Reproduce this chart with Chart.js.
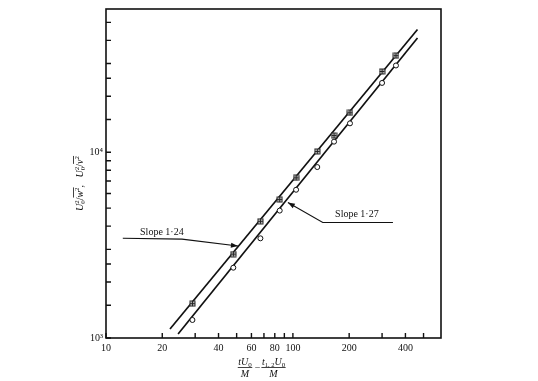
<!DOCTYPE html>
<html>
<head>
<meta charset="utf-8">
<script src="https://cdn.jsdelivr.net/npm/chart.js@4/dist/chart.umd.min.js"></script>
<style>
  html, body { margin: 0; padding: 0; background: #fff; }
  #wrap { width: 538px; height: 381px; }
</style>
</head>
<body>
<div id="wrap"><canvas id="decay"></canvas></div>
<script>
// values (log-log)
const timeSteps = [29, 48, 67, 85, 104, 135, 166, 202, 300, 356];
const ratioW = [1530, 2830, 4250, 5560, 7280, 10100, 12300, 16300, 27200, 33100];
const ratioV = [1250, 2390, 3440, 4850, 6280, 8320, 11400, 14300, 23600, 29300];
// fitted straight lines, end points
const fitWx = [22, 464];
const fitWy = [1117, 45800];
const fitVx = [24.3, 464];
const fitVy = [1050, 41200];
// axes
const xTicks = [10, 20, 30, 40, 50, 60, 70, 80, 90, 100, 200, 300, 400, 500];
const xLabels = [10, 20, 40, 60, 80, 100, 200, 400];
const yTicks = [1000, 1500, 2000, 2500, 3000, 4000, 5000, 6000, 7000, 8000, 9000,
                10000, 15000, 20000, 25000, 30000, 40000, 50000];
const yLabels = { 1000: '10³', 10000: '10⁴' };

const serif = '"Liberation Serif", "DejaVu Serif", serif';
const ink = '#111';

// leaders for the two slope notes (data coordinates)
const notes = [
  { text: 'Slope 1·24', at: [19.9, 3707], path: [[12.3, 3444], [25.5, 3404], [50.8, 3126]] },
  { text: 'Slope 1·27', at: [220, 4627], path: [[343, 4188], [144.5, 4188], [94, 5357]] }
];

// square with a cross for the w series
function crossSquare() {
  const c = document.createElement('canvas');
  c.width = 7; c.height = 7;
  const g = c.getContext('2d');
  g.fillStyle = '#c4c4c4';
  g.fillRect(1, 1, 5, 5);
  g.strokeStyle = '#222'; g.lineWidth = 1;
  g.strokeRect(1, 1, 5, 5);
  g.beginPath();
  g.moveTo(3.5, 1); g.lineTo(3.5, 6);
  g.moveTo(1, 3.5); g.lineTo(6, 3.5);
  g.stroke();
  return c;
}

// small rich text: segments {t, size, italic, dy, adv(false = no advance), over}
function segFont(s) { return (s.italic ? 'italic ' : '') + (s.size || 10) + 'px ' + serif; }
function richWidth(ctx, segs) {
  let w = 0;
  segs.forEach(s => { ctx.font = segFont(s); if (s.adv !== false) w += ctx.measureText(s.t).width; });
  return w;
}
function drawRich(ctx, segs, x, y) {
  let overStart = null;
  segs.forEach(s => {
    ctx.font = segFont(s);
    const w = ctx.measureText(s.t).width;
    ctx.fillText(s.t, x, y + (s.dy || 0));
    if (s.over === 'start') overStart = x;
    if (s.over === 'end') {
      ctx.beginPath();
      ctx.lineWidth = 0.8;
      ctx.moveTo(overStart, y - 9); ctx.lineTo(x + w, y - 9);
      ctx.stroke();
    }
    if (s.adv !== false) x += w;
  });
}

const stackU = [
  { t: 'U', italic: true },
  { t: '2', size: 7, dy: -4, adv: false },
  { t: '0', size: 7, dy: 2.5 }
];
const yTitle = [
  ...stackU, { t: '/' }, { t: 'w', italic: true, over: 'start' }, { t: '2', size: 7, dy: -4, over: 'end' },
  { t: ',   ' },
  ...stackU, { t: '/' }, { t: 'v', italic: true, over: 'start' }, { t: '2', size: 7, dy: -4, over: 'end' }
];
const numA = [{ t: 't', italic: true }, { t: 'U', italic: true }, { t: '0', size: 7, dy: 2 }];
const numB = [{ t: 't', italic: true }, { t: '1, 2', size: 6.5, dy: 2 }, { t: 'U', italic: true }, { t: '0', size: 7, dy: 2 }];
const den = [{ t: 'M', italic: true }];

const frame = {
  id: 'frame',
  afterDraw(chart) {
    const { ctx, chartArea: a, scales: { x, y } } = chart;
    ctx.save();
    ctx.strokeStyle = ink;
    ctx.fillStyle = ink;
    ctx.lineWidth = 1.6;
    ctx.strokeRect(a.left, a.top, a.right - a.left, a.bottom - a.top);

    // inward tick marks
    ctx.lineWidth = 1.4;
    ctx.beginPath();
    xTicks.forEach(v => { const px = x.getPixelForValue(v); ctx.moveTo(px, a.bottom); ctx.lineTo(px, a.bottom - 5); });
    yTicks.forEach(v => { const py = y.getPixelForValue(v); ctx.moveTo(a.left, py); ctx.lineTo(a.left + 5, py); });
    ctx.stroke();

    // slope notes
    notes.forEach(n => {
      const pts = n.path.map(p => [x.getPixelForValue(p[0]), y.getPixelForValue(p[1])]);
      ctx.lineWidth = 1.1;
      ctx.beginPath();
      ctx.moveTo(pts[0][0], pts[0][1]);
      for (let i = 1; i < pts.length; i++) ctx.lineTo(pts[i][0], pts[i][1]);
      ctx.stroke();
      const [tx, ty] = pts[pts.length - 1];
      const [px, py] = pts[pts.length - 2];
      const ang = Math.atan2(ty - py, tx - px);
      ctx.beginPath();
      ctx.moveTo(tx, ty);
      ctx.lineTo(tx - 7 * Math.cos(ang) + 2.5 * Math.sin(ang), ty - 7 * Math.sin(ang) - 2.5 * Math.cos(ang));
      ctx.lineTo(tx - 7 * Math.cos(ang) - 2.5 * Math.sin(ang), ty - 7 * Math.sin(ang) + 2.5 * Math.cos(ang));
      ctx.closePath();
      ctx.fill();
      ctx.font = '10px ' + serif;
      ctx.textAlign = 'center';
      ctx.textBaseline = 'middle';
      ctx.fillText(n.text, x.getPixelForValue(n.at[0]), y.getPixelForValue(n.at[1]));
    });

    // y axis title, rotated
    ctx.textAlign = 'left';
    ctx.textBaseline = 'alphabetic';
    ctx.save();
    ctx.translate(a.left - 27, (a.top + a.bottom) / 2 + 10);
    ctx.rotate(-Math.PI / 2);
    drawRich(ctx, yTitle, -richWidth(ctx, yTitle) / 2, 3.5);
    ctx.restore();

    // x axis title: tU0/M - t12U0/M
    const cx = (a.left + a.right) / 2;
    const barY = a.bottom + 29.5;
    const fracs = [[numA, cx - 28.5], [numB, cx]];
    ctx.lineWidth = 0.8;
    fracs.forEach(([num, fx]) => {
      const wn = richWidth(ctx, num);
      drawRich(ctx, num, fx - wn / 2, barY - 3);
      const wd = richWidth(ctx, den);
      drawRich(ctx, den, fx - wd / 2, barY + 9);
      ctx.beginPath();
      ctx.moveTo(fx - wn / 2 - 0.5, barY); ctx.lineTo(fx + wn / 2 + 0.5, barY);
      ctx.stroke();
    });
    ctx.font = '10px ' + serif;
    ctx.textAlign = 'center';
    ctx.fillText('−', cx - 16, barY + 3);
    ctx.restore();
  }
};

const toPts = (xs, ys) => xs.map((v, i) => ({ x: v, y: ys[i] }));

new Chart(document.getElementById('decay'), {
  type: 'scatter',
  data: {
    datasets: [
      { data: toPts(timeSteps, ratioW), pointStyle: crossSquare(), pointRadius: 3, order: 1 },
      { data: toPts(timeSteps, ratioV), pointStyle: 'circle', pointRadius: 2.5,
        backgroundColor: '#fff', borderColor: ink, borderWidth: 1, order: 1 },
      { type: 'line', data: toPts(fitWx, fitWy), borderColor: ink, borderWidth: 1.7, pointRadius: 0, order: 2 },
      { type: 'line', data: toPts(fitVx, fitVy), borderColor: ink, borderWidth: 1.7, pointRadius: 0, order: 2 }
    ]
  },
  options: {
    responsive: true,
    maintainAspectRatio: false,
    animation: false,
    devicePixelRatio: 1,
    layout: { padding: { left: 0, top: 5, right: 97, bottom: 0 } },
    plugins: { legend: { display: false }, tooltip: { enabled: false } },
    scales: {
      x: {
        type: 'logarithmic', min: 10, max: 620,
        afterBuildTicks: s => { s.ticks = xTicks.map(v => ({ value: v })); },
        afterFit: s => { s.height = 43; },
        grid: { display: false, drawTicks: false },
        border: { display: false },
        ticks: {
          autoSkip: false, maxRotation: 0, minRotation: 0, padding: 4, color: ink,
          font: { family: serif, size: 10 },
          callback: v => xLabels.includes(v) ? String(v) : ''
        }
      },
      y: {
        type: 'logarithmic', min: 1000, max: 59000,
        afterBuildTicks: s => { s.ticks = yTicks.map(v => ({ value: v })); },
        afterFit: s => { s.width = 106; },
        grid: { display: false, drawTicks: false },
        border: { display: false },
        ticks: {
          autoSkip: false, padding: 3, color: ink,
          font: { family: serif, size: 10 },
          callback: v => yLabels[v] || ''
        }
      }
    }
  },
  plugins: [frame]
});
</script>
</body>
</html>
